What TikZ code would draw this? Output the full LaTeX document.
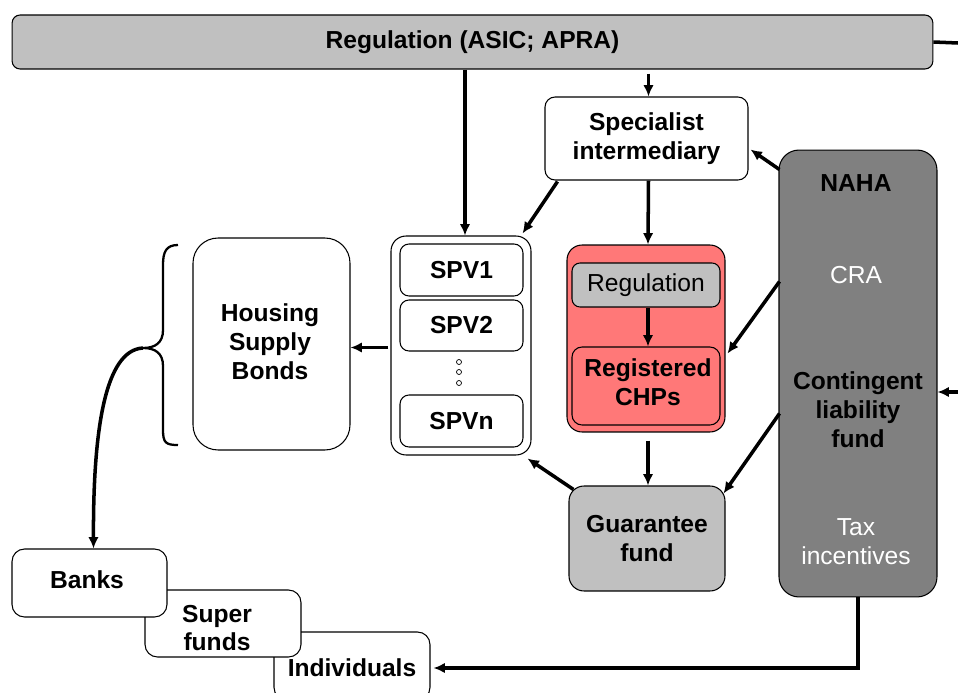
\documentclass[tikz,border=0pt]{standalone}
\usepackage{fontspec}
\setmainfont{Liberation Sans}
\usetikzlibrary{arrows.meta,calc}
\definecolor{boxgray}{HTML}{C0C0C0}
\definecolor{nahagray}{HTML}{808080}
\definecolor{chpred}{HTML}{FF7878}
\newcommand{\dgfont}{\fontsize{14}{16.4}\selectfont}
\tikzset{
	box/.style={draw=black, line width=0.6pt, solid, rounded corners=#1, align=center, inner sep=0pt, font=\dgfont\bfseries},
	box/.default=0.2cm,
	flow/.style={draw=black, line width=2pt, -{Latex[length=6.5pt,width=6pt]}}
}
\begin{document}
\begin{tikzpicture}[x=0.02cm, y=-0.02cm]
	\useasboundingbox (0,0) rectangle (958,693);
	\clip (0,0) rectangle (958,693);
	\node[box=0.16cm, fill=boxgray, minimum width=18.42cm, minimum height=1.08cm] (reg) at (472.5,42) {Regulation (ASIC; APRA)};
	\node[box=0.2cm, fill=white, minimum width=4.06cm, minimum height=1.66cm] (spec) at (646.5,138.5) {Specialist\\intermediary};
	\node[box=0.4cm, fill=nahagray, minimum width=3.16cm, minimum height=8.94cm] (naha) at (858,373.5) {};
	\node[black, font=\dgfont\bfseries] (nahat) at (856,183) {NAHA};
	\node[white, font=\dgfont] (cra) at (856,275) {CRA};
	\node[black, font=\dgfont\bfseries, align=center] (clf) at (858,410) {Contingent\\liability\\fund};
	\node[white, font=\dgfont, align=center] (tax) at (856,542) {Tax\\incentives};
	\node[box=0.3cm, fill=chpred, minimum width=3.16cm, minimum height=3.74cm] (chpg) at (646,338.5) {};
	\node[box=0.16cm, fill=boxgray, font=\dgfont, minimum width=2.96cm, minimum height=0.88cm] (regin) at (646,285) {Regulation};
	\node[box=0.2cm, fill=chpred, minimum width=2.96cm, minimum height=1.56cm] (chp) at (646,386) {};
	\node[black, font=\dgfont\bfseries, align=center] (chpt) at (648,382) {Registered\\CHPs};
	\node[box=0.3cm, fill=boxgray, minimum width=3.12cm, minimum height=2.10cm] (guar) at (647,538.5) {Guarantee\\fund};
	\node[box=0.3cm, fill=white, minimum width=2.80cm, minimum height=4.38cm] (spv) at (461,345.5) {};
	\node[box=0.18cm, fill=white, minimum width=2.46cm, minimum height=1.04cm] (spv1) at (461.5,270) {SPV1};
	\node[box=0.18cm, fill=white, minimum width=2.46cm, minimum height=1.02cm] (spv2) at (461.5,325.5) {SPV2};
	\node[box=0.18cm, fill=white, minimum width=2.46cm, minimum height=1.04cm] (spvn) at (461.5,421) {SPVn};
	\foreach \y in {362,372,383}
		\draw[draw=black, thin, solid] (459,\y) circle (0.05cm);
	\node[box=0.5cm, fill=white, minimum width=3.14cm, minimum height=4.24cm] (hsb) at (271.5,344) {};
	\node[black, font=\dgfont\bfseries, align=center] (hsbt) at (270,342) {Housing\\Supply\\Bonds};
	\draw[draw=black, line width=1.3pt] (178,245) .. controls (166,245) and (163,252) .. (163,265) -- (163,330) .. controls (163,343) and (155,348) .. (143,348) .. controls (155,348) and (163,353) .. (163,366) -- (163,430) .. controls (163,443) and (166,445) .. (178,445);
	\coordinate (bracetip) at (143,348);
	\node[box=0.25cm, fill=white, minimum width=3.12cm, minimum height=1.36cm] (indiv) at (352,666) {};
	\node[black, font=\dgfont\bfseries] (indivt) at (352,668) {Individuals};
	\node[box=0.25cm, fill=white, minimum width=3.12cm, minimum height=1.34cm] (super) at (223,623.5) {};
	\node[black, font=\dgfont\bfseries, align=center] (supert) at (217,628) {Super\\funds};
	\node[box=0.25cm, fill=white, minimum width=3.10cm, minimum height=1.36cm] (banks) at (89.5,583) {};
	\node[black, font=\dgfont\bfseries] (bankst) at (87,580) {Banks};
	\coordinate (redge) at (958,43);
	\coordinate (rin) at (958,392);
	\draw[draw=black, line width=2pt] (reg.east) -- (redge);
	\draw[flow] (rin) -- (rin -| naha.east);
	\draw[flow] ($(spv.north |- reg.south)+(4,0)$) -- ($(spv.north)+(4,0)$);
	\draw[flow] ($(spec.north |- reg.south)+(2,4)$) -- ($(spec.north)+(2,0)$);
	\draw[flow] ($(spec.south west)+(13,1)$) -- ($(spv.north east)+(-9,-2)$);
	\draw[flow] ($(spec.south)+(2,0)$) -- ($(chpg.north)+(2,0)$);
	\draw[flow] ($(naha.north west)+(1,20)$) -- ($(spec.east)+(2,11)$);
	\draw[flow] ($(naha.west)+(1,-92)$) -- ($(chpg.east)+(2,15)$);
	\draw[flow] ($(naha.west)+(1,40)$) -- ($(guar.north east)+(-2,8)$);
	\draw[flow] ($(regin.south)+(2,0)$) -- ($(chp.north)+(2,0)$);
	\draw[flow] ($(chpg.south)+(2,8)$) -- ($(guar.north)+(1,0)$);
	\draw[flow] ($(guar.north west)+(5,4)$) -- ($(spv.south east)+(-4,3)$);
	\draw[flow] ($(spv.west)+(-2,2)$) -- ($(spv.west -| hsb.east)+(0,2)$);
	\draw[flow] (bracetip) .. controls (105,350) and (93,430) .. ($(banks.north)+(4,0)$);
	\draw[flow] (naha.south) |- ($(indiv.east)+(3,2)$);
\end{tikzpicture}
\end{document}
